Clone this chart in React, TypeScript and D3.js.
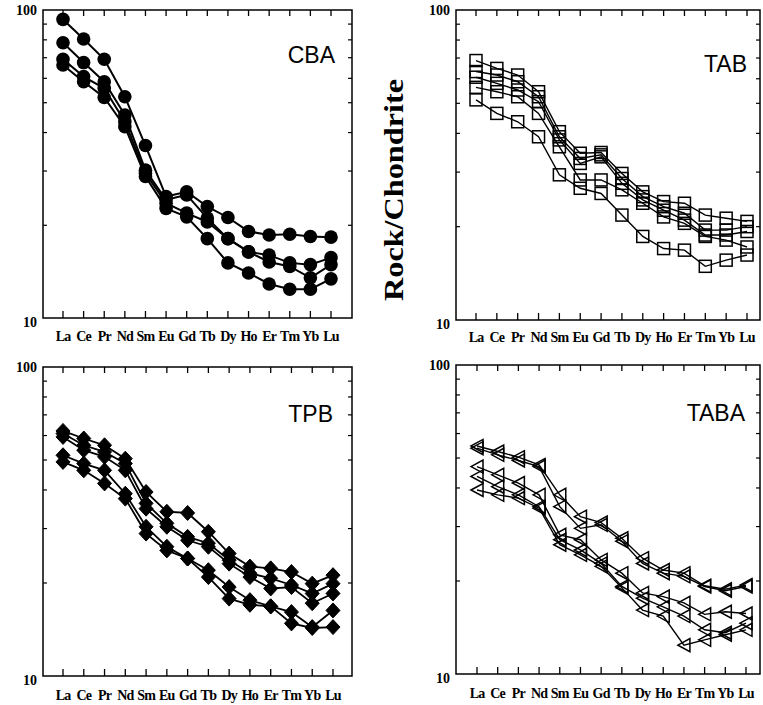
import React, { useEffect, useRef } from "react";
import * as d3 from "d3";

// rare earth elements on the x axis
const ree = ["La", "Ce", "Pr", "Nd", "Sm", "Eu", "Gd", "Tb", "Dy", "Ho", "Er", "Tm", "Yb", "Lu"];

const cbaSeries = [
  [93.2, 80.5, 69.2, 52.3, 36.3, 24.8, 25.7, 23.0, 21.2, 19.1, 18.6, 18.7, 18.4, 18.3],
  [78.3, 67.5, 58.5, 45.6, 30.2, 24.2, 25.1, 21.1, 18.1, 16.4, 16.0, 15.1, 14.9, 15.7],
  [69.2, 60.8, 55.7, 43.4, 29.5, 23.6, 21.9, 20.5, 18.1, 16.4, 15.2, 14.7, 13.5, 14.9],
  [66.3, 58.5, 52.0, 41.8, 28.8, 22.7, 21.3, 18.1, 15.1, 14.0, 12.9, 12.4, 12.4, 13.4],
];

const tabSeries = [
  [68.7, 64.8, 61.7, 54.5, 40.5, 34.5, 34.7, 29.7, 25.9, 24.1, 23.8, 21.8, 21.3, 20.8],
  [63.3, 61.7, 58.7, 52.5, 39.0, 33.2, 34.1, 28.6, 25.0, 23.2, 22.1, 19.5, 19.5, 20.0],
  [60.7, 58.0, 55.2, 50.6, 38.1, 32.0, 33.6, 27.6, 24.4, 22.6, 21.0, 18.8, 18.8, 19.3],
  [56.3, 54.5, 52.5, 46.4, 36.2, 28.3, 28.3, 26.3, 23.8, 21.5, 20.5, 18.6, 18.1, 17.2],
  [51.3, 46.4, 43.6, 39.0, 29.4, 26.6, 25.6, 21.8, 18.6, 17.0, 16.8, 14.9, 15.6, 16.2],
];

const tpbSeries = [
  [62.1, 58.7, 55.8, 50.5, 39.4, 34.0, 33.7, 29.3, 24.9, 22.6, 22.3, 21.7, 19.9, 21.2],
  [60.9, 55.8, 53.1, 48.7, 36.2, 31.2, 28.2, 26.9, 23.7, 21.5, 20.7, 19.7, 18.5, 19.9],
  [59.4, 53.8, 51.2, 46.3, 34.8, 30.4, 27.5, 26.2, 23.1, 20.9, 19.2, 19.4, 17.2, 18.5],
  [51.8, 48.7, 46.3, 38.9, 30.4, 26.2, 24.0, 22.0, 19.4, 17.6, 16.8, 16.1, 14.4, 16.3],
  [49.3, 46.3, 42.0, 37.5, 28.9, 25.5, 24.0, 20.9, 17.8, 17.0, 16.8, 14.8, 14.3, 14.4],
];

const tabaSeries = [
  [54.7, 52.5, 50.3, 47.5, 38.0, 32.3, 30.9, 27.5, 23.7, 21.7, 21.2, 19.3, 18.8, 19.4],
  [53.8, 51.2, 49.1, 46.9, 34.8, 29.6, 30.4, 26.9, 22.8, 21.2, 20.7, 19.2, 18.6, 19.2],
  [46.9, 44.1, 41.5, 38.0, 28.2, 27.2, 23.4, 21.2, 18.3, 17.8, 17.0, 15.6, 15.9, 15.7],
  [43.6, 40.4, 38.0, 34.8, 27.2, 25.2, 22.8, 19.2, 17.6, 16.5, 15.4, 13.9, 13.6, 14.6],
  [39.4, 38.0, 37.1, 34.4, 26.2, 24.3, 22.3, 19.0, 16.1, 15.4, 12.4, 12.9, 13.4, 13.9],
];

const yDomain = [10, 100];
const yMinor = [20, 30, 40, 50, 60, 70, 80, 90];

const panels = [
  { name: "CBA", series: cbaSeries, marker: "circle", left: 43, right: 352, top: 10, bottom: 318, x0: 63, x1: 331, nameY: 63, nameX: 335, labY: 341, lw: 2 },
  { name: "TAB", series: tabSeries, marker: "square", left: 456, right: 760, top: 10, bottom: 320, x0: 476, x1: 747, nameY: 72, nameX: 747, labY: 342, lw: 1.4 },
  { name: "TPB", series: tpbSeries, marker: "diamond", left: 43, right: 352, top: 367, bottom: 676, x0: 63, x1: 333, nameY: 422, nameX: 333, labY: 700, lw: 1.8 },
  { name: "TABA", series: tabaSeries, marker: "triangle", left: 456, right: 760, top: 365, bottom: 674, x0: 477, x1: 746, nameY: 421, nameX: 745, labY: 698, lw: 1.4 },
];

const serif = "'Liberation Serif', 'DejaVu Serif', serif";
const sans = "'Liberation Sans', Arial, sans-serif";

export default function App() {
  const svgRef = useRef<SVGSVGElement | null>(null);

  useEffect(() => {
    const svg = d3.select(svgRef.current);
    svg.selectAll("*").remove();

    panels.forEach((p) => {
      const x = d3.scalePoint<string>().domain(ree).range([p.x0, p.x1]);
      const y = d3.scaleLog().domain(yDomain).range([p.bottom, p.top]);
      const g = svg.append("g");

      // frame
      g.append("rect")
        .attr("x", p.left)
        .attr("y", p.top)
        .attr("width", p.right - p.left)
        .attr("height", p.bottom - p.top)
        .attr("fill", "none")
        .attr("stroke", "#000")
        .attr("stroke-width", 1.5);

      // x ticks, top and bottom, pointing in
      ree.forEach((r) => {
        g.append("line").attr("x1", x(r)!).attr("x2", x(r)!)
          .attr("y1", p.top).attr("y2", p.top + 6)
          .attr("stroke", "#000").attr("stroke-width", 1.3);
        g.append("line").attr("x1", x(r)!).attr("x2", x(r)!)
          .attr("y1", p.bottom).attr("y2", p.bottom - 7)
          .attr("stroke", "#000").attr("stroke-width", 1.3);
      });

      // minor log ticks left and right
      yMinor.forEach((v) => {
        g.append("line").attr("x1", p.left).attr("x2", p.left + 4)
          .attr("y1", y(v)).attr("y2", y(v))
          .attr("stroke", "#000").attr("stroke-width", 1.2);
        g.append("line").attr("x1", p.right).attr("x2", p.right - 4)
          .attr("y1", y(v)).attr("y2", y(v))
          .attr("stroke", "#000").attr("stroke-width", 1.2);
      });

      // y labels
      yDomain.forEach((v) => {
        g.append("text")
          .attr("x", p.left - 6)
          .attr("y", y(v) + (v === 10 ? 4 : 0))
          .attr("dy", "0.35em")
          .attr("text-anchor", "end")
          .attr("font-family", serif)
          .attr("font-weight", "bold")
          .attr("font-size", 14)
          .text(v);
      });

      // element labels
      ree.forEach((r) => {
        g.append("text")
          .attr("x", x(r)!)
          .attr("y", p.labY)
          .attr("text-anchor", "middle")
          .attr("font-family", serif)
          .attr("font-weight", "bold")
          .attr("font-size", 14)
          .attr("letter-spacing", -0.8)
          .text(r);
      });

      // panel name
      g.append("text")
        .attr("x", p.nameX)
        .attr("y", p.nameY)
        .attr("text-anchor", "end")
        .attr("font-family", sans)
        .attr("font-size", 23)
        .text(p.name);

      const line = d3.line<number>()
        .x((_, i) => x(ree[i])!)
        .y((d) => y(d));

      p.series.forEach((s) => {
        g.append("path")
          .attr("d", line(s))
          .attr("fill", "none")
          .attr("stroke", "#000")
          .attr("stroke-width", p.lw);
      });

      p.series.forEach((s) => {
        const m = g.append("g");
        s.forEach((v, i) => {
          const cx = x(ree[i])!;
          const cy = y(v);
          if (p.marker === "circle") {
            m.append("circle").attr("cx", cx).attr("cy", cy).attr("r", 6.8).attr("fill", "#000");
          } else if (p.marker === "square") {
            m.append("rect").attr("x", cx - 6).attr("y", cy - 6).attr("width", 12).attr("height", 12)
              .attr("fill", "none").attr("stroke", "#000").attr("stroke-width", 1.5);
          } else if (p.marker === "diamond") {
            m.append("path").attr("transform", `translate(${cx},${cy})`)
              .attr("d", "M0,-7.5L7,0L0,7.5L-7,0Z").attr("fill", "#000")
              .attr("stroke", "#000").attr("stroke-width", 1).attr("stroke-linejoin", "round");
          } else {
            m.append("path").attr("transform", `translate(${cx},${cy})`)
              .attr("d", "M-6,0L6,-6.5L6,6.5Z").attr("fill", "none")
              .attr("stroke", "#000").attr("stroke-width", 1.5);
          }
        });
      });
    });

    // shared y title
    svg.append("text")
      .attr("transform", "translate(403,190) rotate(-90)")
      .attr("text-anchor", "middle")
      .attr("font-family", serif)
      .attr("font-weight", "bold")
      .attr("font-size", 28)
      .attr("textLength", 222)
      .attr("lengthAdjust", "spacingAndGlyphs")
      .text("Rock/Chondrite");
  }, []);

  return (
    <svg
      ref={svgRef}
      width={763}
      height={705}
      style={{ position: "absolute", left: 0, top: 0, background: "#fff" }}
    />
  );
}
